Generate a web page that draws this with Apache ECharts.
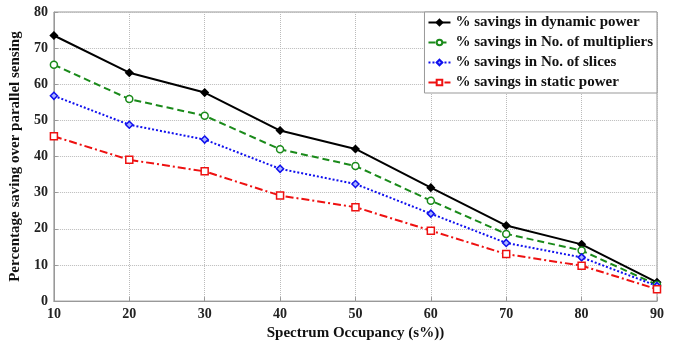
<!DOCTYPE html>
<html><head><meta charset="utf-8">
<script src="https://cdn.jsdelivr.net/npm/echarts@6/dist/echarts.min.js"></script>
<style>html,body{margin:0;padding:0;background:#fff}#c{width:686px;height:346px}</style>
</head><body><div id="c"></div>
<script>
const occupancy = [10, 20, 30, 40, 50, 60, 70, 80, 90];
const dynamicPower = [73.5, 63.2, 57.7, 47.2, 42.1, 31.4, 20.9, 15.7, 5.2];
const multipliers = [65.4, 55.9, 51.3, 42.0, 37.4, 27.8, 18.6, 14.0, 4.5];
const slices = [56.8, 48.8, 44.7, 36.6, 32.4, 24.2, 16.1, 12.1, 4.2];
const staticPower = [45.6, 39.1, 35.9, 29.2, 26.0, 19.5, 13.0, 9.8, 3.3];
const seriesNames = ['% savings in dynamic power', '% savings in No. of multipliers', '% savings in No. of slices', '% savings in static power'];

const font = 'Liberation Serif';
const pair = arr => occupancy.map((x, i) => [x, arr[i]]);
const mk = (name, data, color, type, symbol, fill) => ({
  name, type: 'line', data: pair(data), symbol, symbolSize: 7,
  lineStyle: { color, width: 2, type },
  itemStyle: { color: fill, borderColor: color, borderWidth: 1.5 },
  emphasis: { disabled: true }
});
const chart = echarts.init(document.getElementById('c'), null, { renderer: 'canvas' });
chart.setOption({
  animation: false,
  backgroundColor: '#fff',
  grid: { left: 48, right: 29, top: 12, bottom: 38, show: true, borderColor: '#999', borderWidth: 1 },
  legend: {
    right: 29, top: 12, orient: 'vertical', itemGap: 5, itemWidth: 22, itemHeight: 7,
    backgroundColor: '#fff', borderColor: '#999', borderWidth: 1, padding: [3, 4, 3, 3],
    textStyle: { fontFamily: font, fontWeight: 'bold', fontSize: 15, color: '#111' },
    data: seriesNames
  },
  xAxis: {
    type: 'value', min: 10, max: 90, interval: 10,
    name: 'Spectrum Occupancy (s%))', nameLocation: 'middle', nameGap: 23,
    nameTextStyle: { fontFamily: font, fontWeight: 'bold', fontSize: 15, color: '#111' },
    axisLine: { show: true, lineStyle: { color: '#999' } },
    axisTick: { show: true, inside: true, length: 4, lineStyle: { color: '#999' } },
    axisLabel: { fontFamily: font, fontWeight: 'bold', fontSize: 14, color: '#222', margin: 6 },
    splitLine: { show: true, lineStyle: { color: '#bbb', type: 'dotted' } }
  },
  yAxis: {
    type: 'value', min: 0, max: 80, interval: 10,
    name: 'Percentage saving over parallel sensing', nameLocation: 'middle', nameGap: 22,
    nameTextStyle: { fontFamily: font, fontWeight: 'bold', fontSize: 15, color: '#111' },
    axisLine: { show: true, lineStyle: { color: '#999' } },
    axisTick: { show: true, inside: true, length: 4, lineStyle: { color: '#999' } },
    axisLabel: { fontFamily: font, fontWeight: 'bold', fontSize: 14, color: '#222', margin: 6 },
    splitLine: { show: true, lineStyle: { color: '#bbb', type: 'dotted' } }
  },
  series: [
    mk(seriesNames[0], dynamicPower, '#000', 'solid', 'diamond', '#000'),
    mk(seriesNames[1], multipliers, '#1a8a1a', [7, 4], 'circle', '#fff'),
    mk(seriesNames[2], slices, '#1010ee', [2, 2], 'diamond', '#aab4ff'),
    mk(seriesNames[3], staticPower, '#ee1111', [8, 3, 2, 3], 'rect', '#fff')
  ]
});
</script></body></html>
